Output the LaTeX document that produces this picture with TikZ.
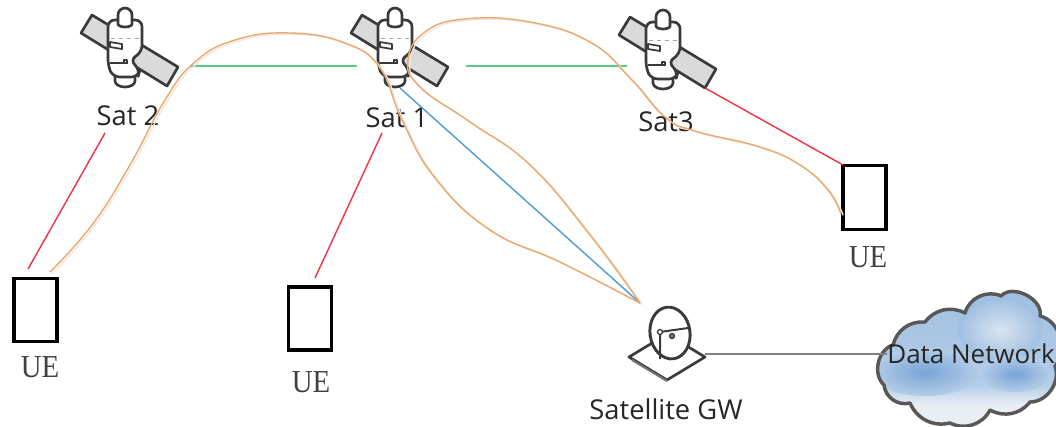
\documentclass[tikz,border=0pt]{standalone}
\usepackage{fontspec}
\setmainfont{Open Sans}
\newfontfamily\uefont{Liberation Serif}
\definecolor{orangeln}{HTML}{EDA868}
\definecolor{greenln}{HTML}{5CCB8A}
\definecolor{redln}{HTML}{F5303F}
\definecolor{blueln}{HTML}{4C9BD8}
\definecolor{iconln}{HTML}{3A3A3A}
\definecolor{panelfill}{HTML}{DADADA}
\definecolor{cloudtop}{HTML}{9FBFE0}
\definecolor{cloudbot}{HTML}{E9EEF4}
\definecolor{cloudmid}{HTML}{B4CDE8}
\definecolor{clouddark}{HTML}{78A4D6}
\tikzset{
  x=0.75pt,y=-0.75pt,
  icon/.style={draw=iconln,line width=2pt,line join=round},
  orangepath/.style={draw=orangeln,line width=1.05pt,smooth,tension=0.75,
    preaction={draw=black!9,line width=1pt,transform canvas={shift={(1.6pt,-1pt)}}}},
  greenpath/.style={draw=greenln,line width=1.05pt},
  redpath/.style={draw=redln,line width=1.05pt},
  bluepath/.style={draw=blueln,line width=1.05pt},
  uebox/.style={draw=black,line width=2.7pt,fill=white,line join=miter},
  uelabel/.style={font=\uefont\fontsize{24}{24}\selectfont,inner sep=0pt,text=black!75},
  lbl/.style={font=\fontsize{20.5}{22}\selectfont,inner sep=0pt,text=black!85},
  lblb/.style={font=\fontsize{19.5}{22}\selectfont,inner sep=0pt,text=black!85},
  sat/.pic={
    \draw[icon,fill=panelfill] (-33,-35) -- (-44,-17) -- (42,36) -- (53,17) -- cycle;
    \draw[icon,fill=white] (-10,24) -- (-10,31) arc[start angle=180,end angle=0,x radius=10,y radius=6] -- (10,24) -- cycle;
    \draw[icon,fill=white,rounded corners=5pt] (-17,-30) -- (17,-30) -- (17,2) -- (5,10) -- (15,20) -- (13,27) -- (-12,27) -- (-17,16) -- cycle;
    \draw[icon,fill=white] (-7,-26) -- (-7,-35) arc[start angle=180,end angle=360,x radius=7,y radius=7] -- (7,-26) arc[start angle=0,end angle=180,x radius=7,y radius=3];
    \draw[draw=black!35,dashed,line width=0.5pt] (-14,-12) -- (14,-12);
    \draw[icon,line width=1.3pt] (-15,-8) -- (-3,-6) -- (-3,-1) -- (-15,-3) -- cycle;
    \draw[icon,line width=1.3pt] (-15,13) -- (3,13) (-1,13) -- (-1,10) -- (2,10) -- (2,13);
  }
}
\begin{document}
\begin{tikzpicture}
\useasboundingbox (0,0) rectangle (1056,426);
% icons
\pic at (125,50) {sat};
\pic at (395,50) {sat};
\pic at (663,52) {sat};
\node[lbl] (sat2) at (128,116) {Sat 2};
\node[lbl] (sat1) at (397,118) {Sat 1};
\node[lbl] (sat3) at (666,122) {Sat3};
\node[uebox,minimum width=43pt*0.75,minimum height=63pt*0.75,inner sep=0pt] (ue1) at (35.5,310) {};
\node[uebox,minimum width=43pt*0.75,minimum height=63pt*0.75,inner sep=0pt] (ue2) at (310,318.5) {};
\node[uebox,minimum width=43pt*0.75,minimum height=64pt*0.75,inner sep=0pt] (ue3) at (864.5,197.5) {};
\node[uelabel] (ue1l) at (40,367) {\scalebox{0.9}[1]{UE}};
\node[uelabel] (ue2l) at (311,382) {\scalebox{0.9}[1]{UE}};
\node[uelabel] (ue3l) at (868,257) {\scalebox{0.9}[1]{UE}};
% named connector ends
\coordinate (s2g) at (190,66);
\coordinate (s1gl) at (357,66);
\coordinate (s1gr) at (466,66);
\coordinate (s3g) at (627,66);
\coordinate (s2r) at (105,133);
\coordinate (ue1r) at (28,269);
\coordinate (s1r) at (382,133);
\coordinate (ue2r) at (315,278);
\coordinate (s3r) at (705,88);
\coordinate (ue3r) at (843,165);
\coordinate (s1b) at (400,88);
\coordinate (gwt) at (640,303);
\coordinate (gwr) at (705,354);
\coordinate (ue1o) at (50,272);
\coordinate (ue3o) at (841,214);
% gateway
\draw[icon,fill=white] (629,357) -- (667,380) -- (705,357) -- (667,334) -- cycle;
\draw[draw=iconln!70,line width=1.6pt] (632,360) -- (667,381);
\draw[icon,line width=2.2pt,fill=white,rotate around={8:(670,333)}] (670,333) ellipse[x radius=20,y radius=26];
\draw[icon,line width=1.5pt] (660,359) -- (660,332) -- (688,328);
\draw[icon,line width=1pt,fill=white] (660,332) circle[radius=2.5];
\draw[icon,line width=1pt,fill=black!50] (672,336) circle[radius=2.5];
\node[lbl] (gw) at (666,409) {Satellite GW};
% cloud
\begin{scope}
\path[clip] (884,385) to[bend left=60] (893,345) to[bend left=40] (925,322)
  to[bend left=40] (965,313) to[bend left=50] (1001,296) to[bend left=75] (1040,316)
  to[bend left=60] (1055,366) to[bend left=55] (1030,402) to[bend left=40] (990,410)
  to[bend left=45] (950,423) to[bend left=40] (910,403) to[bend left=50] (884,385) -- cycle;
\fill[cloudbot] (880,285) rectangle (1056,426);
\shade[top color=cloudtop,bottom color=cloudmid] (880,285) rectangle (1056,385);
\shade[top color=cloudmid,bottom color=cloudbot] (880,385) rectangle (1056,405);
\shade[inner color=cloudbot!70!cloudmid,outer color=cloudtop] (1000,330) ellipse[x radius=42,y radius=32];
\shade[inner color=clouddark,outer color=cloudmid] (925,372) ellipse[x radius=55,y radius=24];
\shade[inner color=clouddark,outer color=cloudmid] (1015,374) ellipse[x radius=36,y radius=18];
\end{scope}
\draw[draw=iconln!85,line width=2.6pt,line join=round] (884,385) to[bend left=60] (893,345) to[bend left=40] (925,322)
  to[bend left=40] (965,313) to[bend left=50] (1001,296) to[bend left=75] (1040,316)
  to[bend left=60] (1055,366) to[bend left=55] (1030,402) to[bend left=40] (990,410)
  to[bend left=45] (950,423) to[bend left=40] (910,403) to[bend left=50] (884,385) -- cycle;
\node[lblb] (dn) at (971,354) {Data Network};
% connectors
\draw[greenpath] (s2g) -- (s1gl);
\draw[greenpath] (s1gr) -- (s3g);
\draw[redpath] (s2r) -- (ue1r);
\draw[redpath] (s1r) -- (ue2r);
\draw[redpath] (s3r) -- (ue3r);
\draw[bluepath] (s1b) -- (gwt);
\draw[draw=black!50,line width=1.8pt] (gwr) -- (dn.west);
\path[orangepath] plot coordinates {(ue1o) (92,225) (130,165) (165,100) (195,62) (235,40) (290,33) (345,43) (380,68) (402,120) (435,178) (490,230) (560,262) (gwt)};
\path[orangepath] plot coordinates {(ue3o) (828,190) (800,165) (760,147) (695,131) (665,117) (630,78) (590,42) (530,22) (465,19) (425,32) (408,60) (420,87) (470,122) (530,165) (590,235) (gwt)};
\end{tikzpicture}
\end{document}
